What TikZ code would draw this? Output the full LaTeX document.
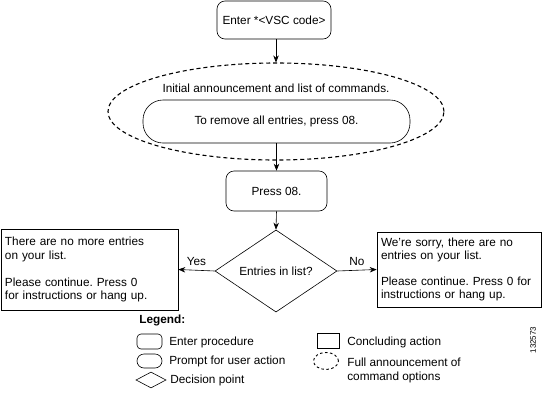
\documentclass[tikz,border=0pt]{standalone}
\usepackage{fontspec}
\setmainfont{Liberation Sans}
\usetikzlibrary{shapes.geometric,arrows.meta}
\frenchspacing
\begin{document}
\begin{tikzpicture}[x=1pt,y=-1pt,
  font=\fontsize{11.8}{13.5}\selectfont,
  line width=0.6pt,
  arr/.style={-{Stealth[length=7pt,width=5.5pt]}},
  enterbox/.style={draw,rounded corners=8pt,inner sep=0pt},
  promptbox/.style={draw,rounded corners=20pt,inner sep=0pt},
  endbox/.style={draw,inner sep=4pt,align=left,anchor=center},
  decbox/.style={draw,diamond,inner sep=0pt},
  annell/.style={draw,ellipse,dash pattern=on 4pt off 3pt,line width=1.1pt,inner sep=0pt},
  lbl/.style={anchor=west,inner sep=0pt}
]
\useasboundingbox (0,0) rectangle (542,405);

\node[enterbox,minimum width=114pt,minimum height=38pt] (enter) at (274,20) {Enter *<VSC code>};
\node[annell,minimum width=336pt,minimum height=97pt] (ann) at (276,111.5) {};
\node[inner sep=0pt] (anntext) at (276,88) {Initial announcement and list of commands.};
\node[promptbox,minimum width=267pt,minimum height=43pt] (prompt) at (276.5,121.5) {To remove all entries, press 08.};
\node[enterbox,minimum width=101pt,minimum height=40pt] (press) at (276.5,191) {Press 08.};
\node[decbox,minimum width=122pt,minimum height=72pt] (dec) at (276,271) {Entries in list?};

\node[endbox,minimum width=177pt,minimum height=81pt,text width=169pt] (left) at (89.5,269.5)
  {There are no more entries\\on your list.\\[13.5pt]Please continue. Press 0\\for instructions or hang up.};
\node[endbox,minimum width=164pt,minimum height=75pt,text width=156pt] (right) at (459,269.5)
  {We're sorry, there are no\\entries on your list.\\[12pt]Please continue. Press 0 for\\instructions or hang up.};

\draw[arr] (enter.south -| ann.north) -- (ann.north);
\draw[arr] (prompt.south) -- (press.north);
\draw[arr] (press.south) -- (dec.north);
\draw[arr] (dec.west) -- node[above=1pt] {Yes} (left.east);
\draw[arr] (dec.east) -- node[above=1pt] {No} (right.west);

% legend
\node[lbl,font=\fontsize{11.8}{13.5}\selectfont\bfseries] (legend) at (139,320) {Legend:};
\node[enterbox,rounded corners=4pt,minimum width=25pt,minimum height=15pt] (i1) at (149.5,341.5) {};
\node[promptbox,rounded corners=7pt,minimum width=25pt,minimum height=14pt] (i2) at (149.5,361) {};
\node[decbox,minimum width=30pt,minimum height=16pt] (i3) at (151,380) {};
\node[draw,inner sep=0pt,minimum width=22pt,minimum height=15pt] (i4) at (328,341) {};
\node[draw,ellipse,dash pattern=on 2.5pt off 2.5pt,line width=0.9pt,inner sep=0pt,minimum width=25pt,minimum height=17pt] (i5) at (326,361) {};

\node[lbl] (t1) at (169,342) {Enter procedure};
\node[lbl] (t2) at (169,361) {Prompt for user action};
\node[lbl] (t3) at (170,380) {Decision point};
\node[lbl] (t4) at (347,342) {Concluding action};
\node[lbl,align=left] (t5) at (347,370.5) {Full announcement of\\command options};

\node[rotate=90,inner sep=0pt,font=\fontsize{8}{9}\selectfont] (num) at (533,340) {132573};
\end{tikzpicture}
\end{document}
